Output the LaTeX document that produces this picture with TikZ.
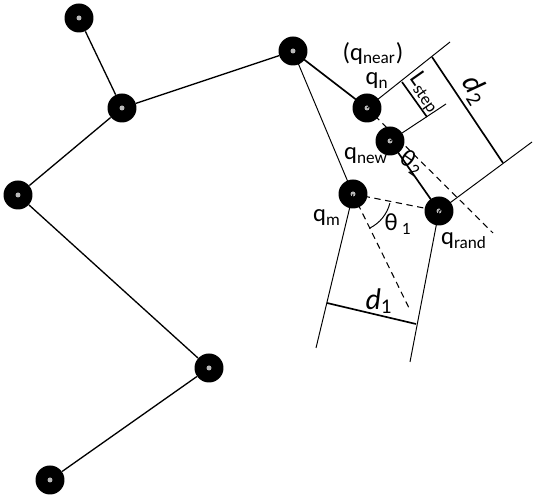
\documentclass[tikz,border=0pt]{standalone}
\usepackage{fontspec}
\setmainfont{Carlito}
\begin{document}
\begin{tikzpicture}[x=0.02cm,y=0.02cm,
  vtx/.style={circle,fill=black,minimum size=0.58cm,inner sep=0pt,
    path picture={\fill[gray!55] (path picture bounding box.center) circle (0.05cm);}},
  tree/.style={line width=0.75pt},
  thinline/.style={line width=0.55pt},
  thickline/.style={line width=0.95pt},
  dashline/.style={line width=0.6pt,dash pattern=on 3.6pt off 2.6pt},
  lbl/.style={inner sep=0pt,font=\fontsize{14}{15}\selectfont},
  big/.style={inner sep=0pt,font=\fontsize{17}{18}\selectfont}]
\useasboundingbox (0,0) rectangle (535,500);
% free ends
\coordinate (P1) at (450,458);
\coordinate (P2) at (446,396);
\coordinate (P3) at (532,358);
\coordinate (Ls1) at (402,418);
\coordinate (Ls2) at (427,383);
\coordinate (D2a) at (432,443);
\coordinate (D2b) at (503,337);
\coordinate (Q1) at (316,152);
\coordinate (Q2) at (410,138);
\coordinate (D1a) at (327,197);
\coordinate (D1b) at (416,176);
\coordinate (Dm) at (410,190);
\coordinate (Dn) at (493,267);
% lines under nodes
\draw[thinline] (293,449) -- (353,306);
\draw[thickline] (293,449) -- (367,392);
\draw[thickline] (390,359) -- (439,289);
\draw[dashline] (367,392) -- (Dn);
\draw[dashline] (353,306) -- (439,289);
\draw[dashline] (353,306) -- (Dm);
% nodes
\node[vtx] (A) at (79,482) {};
\node[vtx] (B) at (122,392) {};
\node[vtx] (C) at (293,449) {};
\node[vtx] (D) at (18,305) {};
\node[vtx] (E) at (209,132) {};
\node[vtx] (F) at (50,20) {};
\node[vtx] (qn) at (367,392) {};
\node[vtx] (qnew) at (390,359) {};
\node[vtx] (qm) at (353,306) {};
\node[vtx] (qr) at (439,289) {};
% tree
\draw[tree] (A) -- (B);
\draw[tree] (B) -- (C);
\draw[tree] (B) -- (D);
\draw[tree] (D) -- (E);
\draw[tree] (E) -- (F);
% construction lines
\draw[thinline] (qn.center) -- (P1);
\draw[thinline] (qnew.center) -- (P2);
\draw[thinline] (qr.center) -- (P3);
\draw[thinline] (qm.center) -- (Q1);
\draw[thinline] (qr.center) -- (Q2);
\draw[thickline] (Ls1) -- (Ls2);
\draw[thickline] (D2a) -- (D2b);
\draw[thickline] (D1a) -- (D1b);
% angle arc
\draw[thinline] ([shift={(-64:0.76cm)}]qm.center) arc[start angle=-64,end angle=-14,radius=0.76cm];
% labels
\node[lbl] (lnear) at (373,447) {(q\textsubscript{near})};
\node[lbl] (lqn) at (377,419) {q\textsubscript{n}};
\node[lbl] (lqnew) at (366,344) {q\textsubscript{new}};
\node[lbl] (lqm) at (327,282) {q\textsubscript{m}};
\node[lbl] (lqr) at (464,259) {q\textsubscript{rand}};
\node[lbl] (lt1) at (398,276) {θ\,\textsubscript{1}};
\node[lbl,rotate=-35] (lt2) at (412,337) {θ\textsubscript{2}};
\node[lbl,rotate=-55] (lls) at (425,407) {L\textsubscript{step}};
\node[big,rotate=-58] (ld2) at (475,410) {\textit{d}\textsubscript{2}};
\node[big] (ld1) at (379,199) {\textit{d}\textsubscript{1}};
\end{tikzpicture}
\end{document}
